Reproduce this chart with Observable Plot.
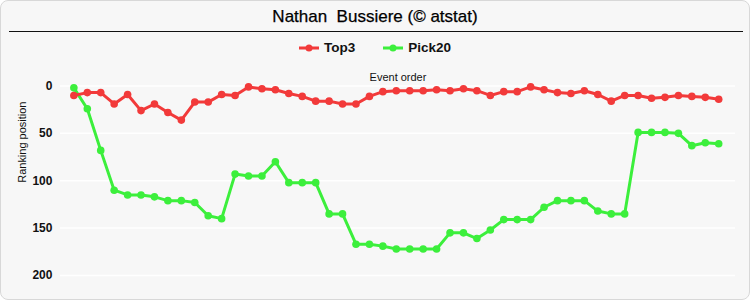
<!DOCTYPE html>
<html>
<head>
<meta charset="utf-8">
<script src="https://cdn.jsdelivr.net/npm/d3@7"></script>
<script src="https://cdn.jsdelivr.net/npm/@observablehq/plot@0.6"></script>
<style>
  html, body { margin: 0; padding: 0; background: #ffffff; }
  #frame { position: relative; width: 748px; height: 298px; background: #f7f7f7; border: 1px solid #d8d8d8; border-radius: 8px; overflow: hidden; font-family: "Liberation Sans", Arial, sans-serif; }
  #title { position: absolute; top: 6px; left: 0; width: 748px; text-align: center; font-size: 17px; color: #000; -webkit-text-stroke: 0.25px #000; }
  #rule { position: absolute; top: 30px; left: 8px; width: 734px; height: 0; border-top: 1.5px solid #111; }
  #legend { position: absolute; top: 39px; left: 0; width: 748px; display: flex; justify-content: center; align-items: center; font-size: 13.5px; font-weight: bold; color: #111; }
  .item { display: flex; align-items: center; margin: 0 14px; }
  .item svg { margin-right: 5px; }
  #chart { position: absolute; top: 59px; left: -1px; }
</style>
</head>
<body>
<div id="frame">
  <div id="title">Nathan&nbsp; Bussiere (© atstat)</div>
  <div id="rule"></div>
  <div id="legend"></div>
  <div id="chart"></div>
</div>
<script>
const seriesNames = ["Top3", "Pick20"];
const seriesColors = ["#f23a3a", "#3cef3c"];
const top3 = [10, 7, 7, 19, 9, 26, 19, 28, 36, 17, 17, 9, 10, 1, 3, 4, 8, 11, 16, 16, 19, 19, 11, 6, 5, 5, 5, 4, 5, 3, 5, 10, 6, 6, 1, 4, 7, 8, 5, 9, 16, 10, 10, 13, 12, 10, 11, 12, 14];
const pick20 = [2, 24, 68, 110, 115, 115, 117, 121, 121, 123, 137, 140, 93, 95, 95, 80, 102, 102, 102, 135, 135, 167, 167, 169, 172, 172, 172, 172, 155, 155, 161, 152, 141, 141, 141, 128, 121, 121, 121, 132, 135, 135, 49, 49, 49, 50, 63, 60, 61];
const yTicks = [0, 50, 100, 150, 200];
const xLabel = "Event order";
const yLabel = "Ranking position";

// draw Pick20 first so Top3 sits on top
const rows = [];
[[pick20, 1], [top3, 0]].forEach(([vals, s]) => vals.forEach((v, i) => rows.push({event: i + 1, rank: v, series: seriesNames[s]})));

// legend
const legend = document.getElementById("legend");
seriesNames.forEach((name, i) => {
  const item = document.createElement("div");
  item.className = "item";
  item.innerHTML = `<svg width="20" height="10"><line x1="0" y1="5" x2="20" y2="5" stroke="${seriesColors[i]}" stroke-width="3"/><circle cx="10" cy="5" r="3.5" fill="${seriesColors[i]}"/></svg><span>${name}</span>`;
  legend.appendChild(item);
});

const chart = Plot.plot({
  width: 750,
  height: 240,
  marginLeft: 60,
  marginRight: 14,
  marginTop: 25.5,
  marginBottom: 24.7,
  style: { background: "transparent", fontFamily: "Liberation Sans, Arial, sans-serif" },
  x: { domain: [0, 50.25], axis: null },
  y: { domain: [0, 200], reverse: true },
  color: { domain: seriesNames, range: seriesColors },
  marks: [
    Plot.gridY(yTicks, { stroke: "#ffffff", strokeOpacity: 1, strokeWidth: 1.5 }),
    Plot.axisY(yTicks, { tickSize: 0, tickPadding: 8, fontSize: 12, fontWeight: "bold", fill: "#111", label: null }),
    Plot.text([xLabel], { frameAnchor: "top", dy: -12.5, fontSize: 11, fill: "#111" }),
    Plot.text([yLabel], { frameAnchor: "left", rotate: -90, dx: -38, dy: 2, fontSize: 11, fill: "#111" }),
    Plot.line(rows, { x: "event", y: "rank", z: "series", stroke: "series", strokeWidth: 3 }),
    Plot.dot(rows, { x: "event", y: "rank", fill: "series", r: 3.8 })
  ]
});
document.getElementById("chart").appendChild(chart);
</script>
</body>
</html>
